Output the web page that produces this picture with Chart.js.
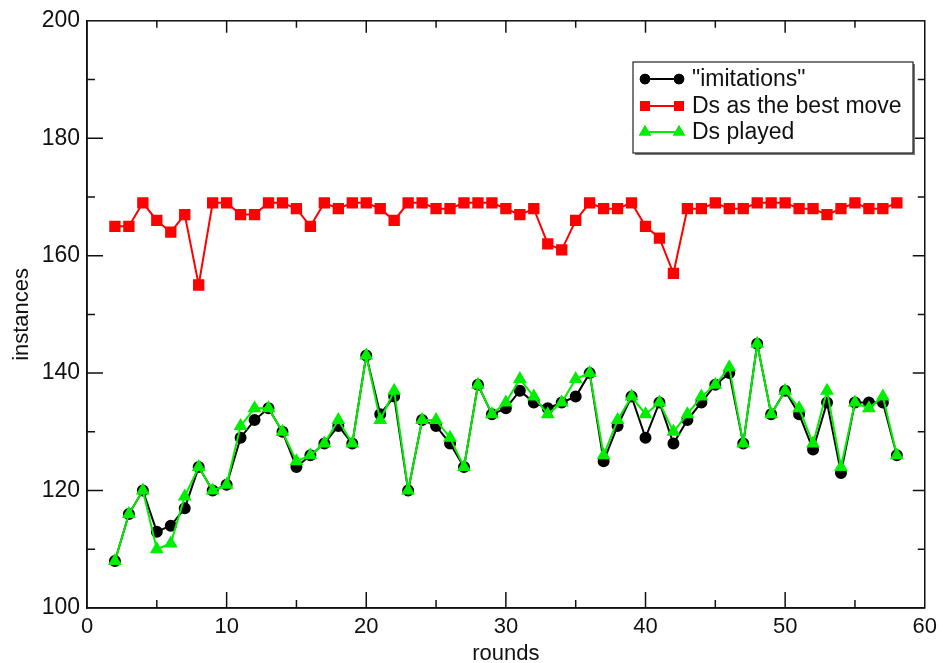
<!DOCTYPE html>
<html>
<head>
<meta charset="utf-8">
<script src="https://cdn.jsdelivr.net/npm/chart.js@4.4.1/dist/chart.umd.min.js"></script>
<style>
  html, body { margin: 0; padding: 0; background: #fff; }
  #wrap { width: 943px; height: 663px; }
</style>
</head>
<body>
<div id="wrap"><canvas id="rounds-chart" width="943" height="663"></canvas></div>
<script>
var rounds = [2, 3, 4, 5, 6, 7, 8, 9, 10, 11, 12, 13, 14, 15, 16, 17, 18, 19, 20,
  21, 22, 23, 24, 25, 26, 27, 28, 29, 30, 31, 32, 33, 34, 35, 36, 37, 38, 39, 40,
  41, 42, 43, 44, 45, 46, 47, 48, 49, 50, 51, 52, 53, 54, 55, 56, 57, 58];

var imitations = [108, 116, 120, 113, 114, 117, 124, 120, 121, 129, 132, 134, 130, 124, 126, 128, 131, 128, 143,
  133, 136, 120, 132, 131, 128, 124, 138, 133, 134, 137, 135, 134, 135, 136, 140, 125, 131, 136, 129,
  135, 128, 132, 135, 138, 140, 128, 145, 133, 137, 133, 127, 135, 123, 135, 135, 135, 126];

var dsBestMove = [165, 165, 169, 166, 164, 167, 155, 169, 169, 167, 167, 169, 169, 168, 165, 169, 168, 169, 169,
  168, 166, 169, 169, 168, 168, 169, 169, 169, 168, 167, 168, 162, 161, 166, 169, 168, 168, 169, 165,
  163, 157, 168, 168, 169, 168, 168, 169, 169, 169, 168, 168, 167, 168, 169, 168, 168, 169];

var dsPlayed = [108, 116, 120, 110, 111, 119, 124, 120, 121, 131, 134, 134, 130, 125, 126, 128, 132, 128, 143,
  132, 137, 120, 132, 132, 129, 124, 138, 133, 135, 139, 136, 133, 135, 139, 140, 126, 132, 136, 133,
  135, 130, 133, 136, 138, 141, 128, 145, 133, 137, 134, 128, 137, 124, 135, 134, 136, 126];

var xTicks = [0, 10, 20, 30, 40, 50, 60];
var yTicks = [100, 120, 140, 160, 180, 200];

var FONT = "'Liberation Sans', Arial, sans-serif";

function pairs(vals) {
  return rounds.map(function(r, i) { return { x: r, y: vals[i] }; });
}

// inward tick marks + full box, like xmgrace
var frame = {
  id: 'frame',
  afterDraw: function(chart) {
    var c = chart.ctx, a = chart.chartArea;
    var xs = chart.scales.x, ys = chart.scales.y;
    c.save();
    c.strokeStyle = '#111';
    c.lineWidth = 1.5;
    c.strokeRect(a.left, a.top, a.right - a.left, a.bottom - a.top);
    c.beginPath();
    for (var v = 5; v < 60; v += 5) {
      var px = xs.getPixelForValue(v);
      var big = v % 10 === 0;
      c.moveTo(px, a.bottom); c.lineTo(px, a.bottom - (big ? 16 : 8));
      c.moveTo(px, a.top); c.lineTo(px, a.top + (big ? 12 : 7));
    }
    for (var w = 110; w < 200; w += 10) {
      var py = ys.getPixelForValue(w);
      var major = w % 20 === 0;
      c.moveTo(a.left, py); c.lineTo(a.left + (major ? 16 : 8), py);
      c.moveTo(a.right, py); c.lineTo(a.right - (major ? 12 : 7), py);
    }
    c.stroke();
    c.restore();
  }
};

// legend box drawn inside the plot
var boxLegend = {
  id: 'boxLegend',
  afterDraw: function(chart) {
    var c = chart.ctx;
    var x0 = 633, y0 = 62, w = 280, h = 91;
    c.save();
    c.fillStyle = '#777';
    c.fillRect(x0 + 2, y0 + 2, w, h);
    c.fillStyle = '#fff';
    c.fillRect(x0, y0, w, h);
    c.strokeStyle = '#222';
    c.lineWidth = 1.2;
    c.strokeRect(x0, y0, w, h);
    var rows = [79, 106, 132];
    chart.data.datasets.forEach(function(ds, i) {
      var y = rows[ds.legendRow];
      c.strokeStyle = ds.borderColor;
      c.lineWidth = 2;
      c.beginPath();
      c.moveTo(645, y); c.lineTo(679, y);
      c.stroke();
      [645, 679].forEach(function(px) {
        Chart.helpers.drawPoint(c, {
          pointStyle: ds.pointStyle, radius: ds.pointRadius * 0.85,
          borderWidth: 1
        }, px, y);
        c.fillStyle = ds.backgroundColor;
        c.strokeStyle = ds.borderColor;
        c.fill();
        c.stroke();
      });
      c.fillStyle = '#111';
      c.font = '23px ' + FONT;
      c.textBaseline = 'middle';
      c.textAlign = 'left';
      c.fillText(ds.label, 692, y + 1);
    });
    c.restore();
  }
};

(function() {
  var ctx = document.getElementById('rounds-chart');
  new Chart(ctx, {
    type: 'line',
    data: {
      datasets: [
        {
          label: '"imitations"',
          legendRow: 0,
          data: pairs(imitations),
          borderColor: '#000000',
          backgroundColor: '#000000',
          borderWidth: 2,
          pointStyle: 'circle',
          pointRadius: 5,
          order: 3
        },
        {
          label: 'Ds as the best move',
          legendRow: 1,
          data: pairs(dsBestMove),
          borderColor: '#ff0000',
          backgroundColor: '#ff0000',
          borderWidth: 2,
          pointStyle: 'rect',
          pointRadius: 6.6,
          order: 2
        },
        {
          label: 'Ds played',
          legendRow: 2,
          data: pairs(dsPlayed),
          borderColor: '#00ee00',
          backgroundColor: '#00ee00',
          borderWidth: 2,
          pointStyle: 'triangle',
          pointRadius: 6,
          order: 1
        }
      ]
    },
    options: {
      responsive: false,
      animation: false,
      events: [],
      layout: { padding: { top: 19, right: 16, bottom: 0, left: 0 } },
      elements: { line: { tension: 0 } },
      plugins: { legend: { display: false }, tooltip: { enabled: false } },
      scales: {
        x: {
          type: 'linear',
          min: 0, max: 60,
          afterFit: function(s) { s.height = 55; },
          afterBuildTicks: function(s) { s.ticks = xTicks.map(function(v) { return { value: v }; }); },
          grid: { drawOnChartArea: false, drawTicks: false },
          border: { color: '#111', width: 1.5 },
          ticks: { padding: 6, color: '#111', font: { family: FONT, size: 22 }, maxRotation: 0 },
          title: { display: true, text: 'rounds', color: '#111', padding: { top: 0, bottom: 0 },
                   font: { family: FONT, size: 22, lineHeight: 0.85 } }
        },
        y: {
          min: 100, max: 200,
          afterFit: function(s) { s.width = 87; },
          afterBuildTicks: function(s) { s.ticks = yTicks.map(function(v) { return { value: v }; }); },
          grid: { drawOnChartArea: false, drawTicks: false },
          border: { color: '#111', width: 1.5 },
          ticks: { padding: 7, color: '#111', font: { family: FONT, size: 23 } },
          title: { display: true, text: 'instances', color: '#111', padding: { top: 9, bottom: 0 },
                   font: { family: FONT, size: 22 } }
        }
      }
    },
    plugins: [frame, boxLegend]
  });
})();
</script>
</body>
</html>
